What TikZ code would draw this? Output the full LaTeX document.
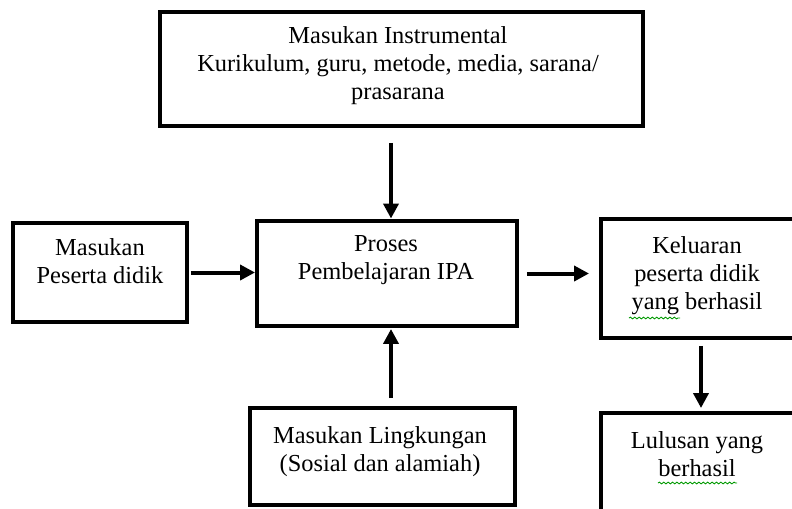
\documentclass[tikz,border=0pt]{standalone}
\usepackage{fontspec}
\setmainfont{Liberation Serif}
\usetikzlibrary{arrows.meta,decorations.pathmorphing}
\tikzset{
  blok/.style={draw, line width=0.09cm, inner sep=0pt, outer sep=0pt},
  teks/.style={anchor=north, align=center, inner sep=0pt,
               font=\fontsize{13.9}{16}\selectfont},
  panah/.style={-{Triangle[length=0.3cm,width=0.3cm]}, line width=0.08cm},
  squig/.style={draw=green!60!black, line width=0.5pt, decorate,
                decoration={snake, amplitude=0.5pt, segment length=2.5pt}},
}
\begin{document}
\begin{tikzpicture}[x=0.02cm, y=-0.02cm]
\useasboundingbox (0,0) rectangle (792,508);
\clip (0,0) rectangle (792,508);

% boxes
\node[blok, minimum width=9.66cm, minimum height=2.28cm] (instr) at (401.5,69) {};
\node[blok, minimum width=3.48cm, minimum height=1.98cm] (pes) at (100,272.5) {};
\node[blok, minimum width=5.2cm, minimum height=2.1cm] (proc) at (387,273.5) {};
\node[blok, minimum width=5.3cm, minimum height=1.94cm] (env) at (382.5,456.5) {};
\node[blok, minimum width=3.92cm, minimum height=2.38cm] (kel) at (699,278.5) {};
\node[blok, minimum width=3.92cm, minimum height=3.14cm] (lul) at (699,491.5) {};

% texts
\node[teks] (instrT) at (398,26.3) {Masukan Instrumental\\Kurikulum, guru, metode, media, sarana/\\prasarana};
\node[teks] (pesT) at (100,238) {Masukan\\Peserta didik};
\node[teks] (procT) at (386,235) {Proses\\Pembelajaran IPA};
\node[teks] (envT) at (380,426) {Masukan Lingkungan\\(Sosial dan alamiah)};
\node[teks] (kelT) at (697,236) {Keluaran\\peserta didik\\yang berhasil};
\node[teks] (lulT) at (697,431) {Lulusan yang\\berhasil};

% arrows
\draw[panah, shorten <=0.34cm, shorten >=0.05cm]
  ([xshift=0.08cm]instr.south -| proc.north) -- ([xshift=0.08cm]proc.north);
\draw[panah, shorten <=0.08cm, shorten >=0.04cm] (pes.east) -- (pes.east -| proc.west);
\draw[panah, shorten <=0.2cm, shorten >=0.24cm] (proc.east) -- (proc.east -| kel.west);
\draw[panah, shorten <=0.2cm, shorten >=0.06cm]
  ([xshift=0.08cm]env.north -| proc.south) -- ([xshift=0.08cm]proc.south);
\draw[panah, shorten <=0.16cm, shorten >=0.1cm]
  ([xshift=0.04cm]kel.south) -- ([xshift=0.04cm]kel.south |- lul.north);

% spelling marks
\draw[squig] (629,318) -- (680,318);
\draw[squig] (658,483) -- (737,483);
\end{tikzpicture}
\end{document}
